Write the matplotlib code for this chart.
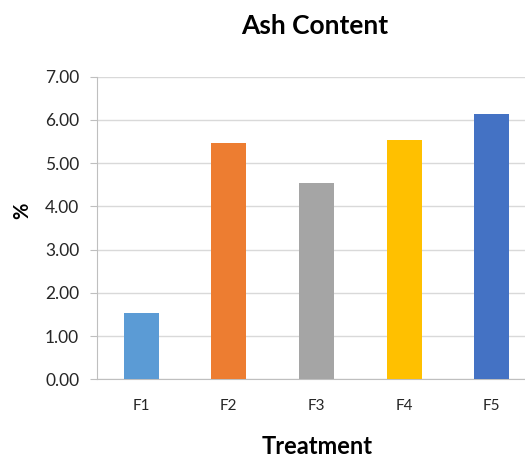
import matplotlib
matplotlib.use("Agg")
import matplotlib.pyplot as plt

categories = ["F1", "F2", "F3", "F4", "F5"]
ash_values = [1.53, 5.46, 4.55, 5.53, 6.13]
bar_colors = ["#5B9BD5", "#ED7D31", "#A5A5A5", "#FFC000", "#4472C4"]
y_ticks = [0, 1, 2, 3, 4, 5, 6, 7]

plt.rcParams["font.family"] = ["Lato", "DejaVu Sans"]

W, H = 525, 457
fig = plt.figure(figsize=(W / 100, H / 100), dpi=100)
left, right = 97.3 / W, 535.5 / W
bottom, top = 1 - 379.3 / H, 1 - 76.7 / H
ax = fig.add_axes([left, bottom, right - left, top - bottom])

x = range(len(categories))
ax.bar(x, ash_values, width=0.4, color=bar_colors, zorder=3)

ax.set_xlim(-0.5, 4.5)
ax.set_ylim(0, 7)
ax.set_yticks(y_ticks)
ax.set_yticklabels([f"{v:.2f}" for v in y_ticks], fontsize=12.5, color="#262626")
ax.set_xticks(list(x))
ax.set_xticklabels(categories, fontsize=11, color="#262626")

ax.grid(axis="y", color="#d9d9d9", linewidth=1, zorder=0)
for s in ["top", "right"]:
    ax.spines[s].set_visible(False)
ax.spines["left"].set_color("#bfbfbf")
ax.spines["bottom"].set_color("#bfbfbf")
ax.tick_params(axis="y", length=5, color="#bfbfbf", pad=8)
ax.tick_params(axis="x", length=0, pad=14)

fig.text(315 / W, 1 - 26 / H, "Ash Content", fontsize=19, fontweight="bold",
         ha="center", va="center")
fig.text(317 / W, 1 - 447 / H, "Treatment", fontsize=17, fontweight="bold",
         ha="center", va="center")
fig.text(22 / W, 1 - 211 / H, "%", fontsize=14.5, fontweight="bold",
         ha="center", va="center", rotation=90)

fig.savefig("out.png", dpi=100)
